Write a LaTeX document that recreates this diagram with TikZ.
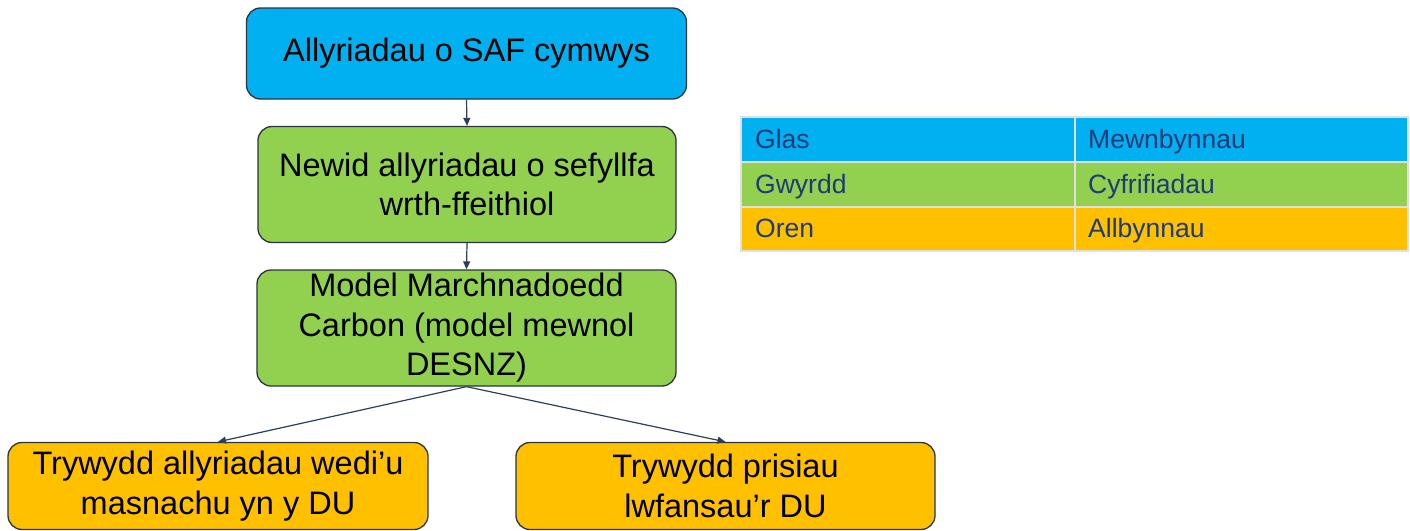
\documentclass[tikz,border=0pt]{standalone}
\usepackage{fontspec}
\setmainfont{Liberation Sans}
\usetikzlibrary{arrows.meta}
\definecolor{cblue}{HTML}{00B0F0}
\definecolor{cgreen}{HTML}{92D050}
\definecolor{corange}{HTML}{FFC000}
\definecolor{cedge}{HTML}{2B3440}
\definecolor{carrow}{HTML}{2C3E60}
\definecolor{ctext}{HTML}{1F3A78}
\tikzset{
  box/.style={draw=cedge, line width=1.3pt, rounded corners=14pt, align=center,
    inner sep=0pt, font=\fontsize{32.5}{39.5}\selectfont, text=black},
  conn/.style={draw=carrow, line width=1.2pt, -{Triangle[length=8pt,width=7pt]}},
  cell/.style={draw=white!88!black, line width=1.5pt, inner sep=0pt},
  celltext/.style={anchor=base west, text=ctext, font=\fontsize{26.5}{30}\selectfont, inner sep=0pt}
}
\begin{document}
\begin{tikzpicture}[x=1pt,y=-1pt]
\useasboundingbox (0,0) rectangle (1410,530);
% boxes
\node[box, fill=cblue, minimum width=440pt, minimum height=91pt] (a) at (466.5,53.5) {Allyriadau o SAF cymwys};
\node[box, fill=cgreen, minimum width=418pt, minimum height=116pt] (b) at (467,184.5) {Newid allyriadau o sefyllfa\\wrth-ffeithiol};
\node[box, fill=cgreen, minimum width=419pt, minimum height=116pt] (c) at (466.5,328) {Model Marchnadoedd\\Carbon (model mewnol\\DESNZ)};
\node[box, fill=corange, minimum width=420pt, minimum height=87pt] (d) at (218,486) {Trywydd allyriadau wedi’u\\masnachu yn y DU};
\node[box, fill=corange, minimum width=419pt, minimum height=87pt] (e) at (725.5,486) {Trywydd prisiau\\lwfansau’r DU};
% connectors
\draw[conn] (a.south) -- (b.north);
\draw[conn] (b.south) -- (c.north);
\draw[conn] (c.south) -- (d.north);
\draw[conn] (c.south) -- (e.north);
% legend table
\path[cell, fill=cblue] (741,117) rectangle (1075,162);
\path[cell, fill=cblue] (1075,117) rectangle (1408,162);
\path[cell, fill=cgreen] (741,162) rectangle (1075,207);
\path[cell, fill=cgreen] (1075,162) rectangle (1408,207);
\path[cell, fill=corange] (741,207) rectangle (1075,251);
\path[cell, fill=corange] (1075,207) rectangle (1408,251);
\node[celltext] (t1) at (755,148) {Glas};
\node[celltext] (t2) at (1088,148) {Mewnbynnau};
\node[celltext] (t3) at (755,193) {Gwyrdd};
\node[celltext] (t4) at (1088,193) {Cyfrifiadau};
\node[celltext] (t5) at (755,237.5) {Oren};
\node[celltext] (t6) at (1088,237.5) {Allbynnau};
\end{tikzpicture}
\end{document}
